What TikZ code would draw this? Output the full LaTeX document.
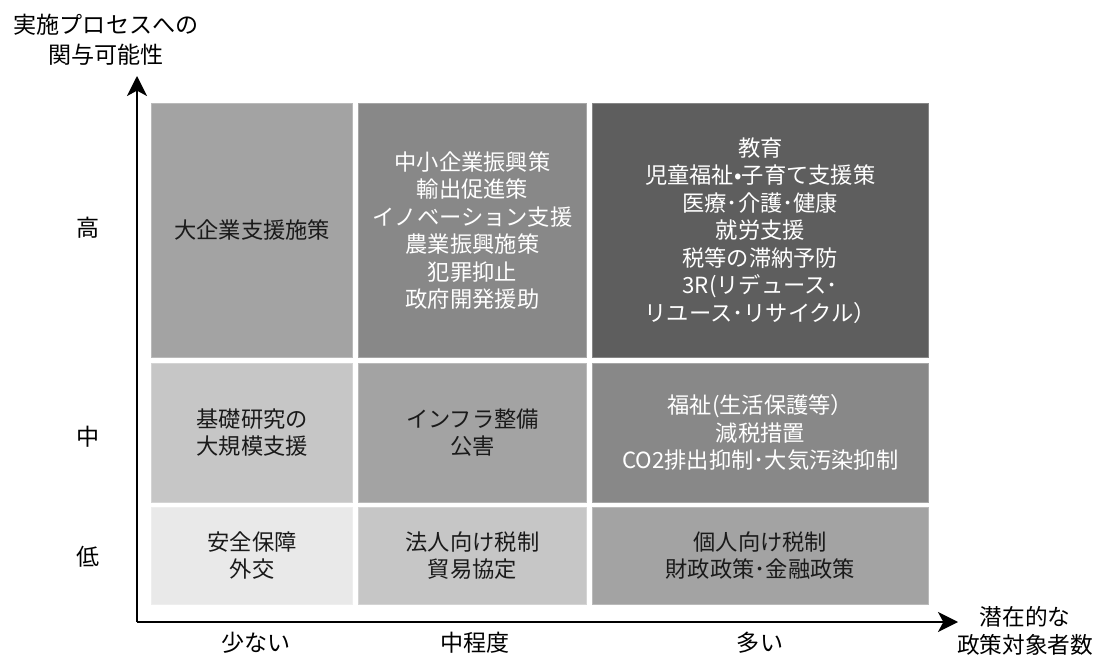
\documentclass[tikz,border=0pt]{standalone}
\usepackage{fontspec}
\setmainfont{Noto Sans CJK JP}
\usetikzlibrary{arrows.meta}
\definecolor{cA}{HTML}{A3A3A3}
\definecolor{cB}{HTML}{888888}
\definecolor{cC}{HTML}{5E5E5E}
\definecolor{cD}{HTML}{C6C6C6}
\definecolor{cE}{HTML}{E9E9E9}
\definecolor{txtdark}{HTML}{1A1A1A}
\tikzset{
  cell/.style={rectangle, inner sep=0pt, fill=#1, draw=#1!75!white, line width=0.6pt,
    align=center, font=\fontsize{16.7}{20.6}\selectfont, text=txtdark},
  lighttext/.style={text=white},
  w1/.style={minimum width=150.7pt},
  w2/.style={minimum width=171.3pt},
  w3/.style={minimum width=252pt},
  h1/.style={minimum height=190.8pt},
  h2/.style={minimum height=104pt},
  h3/.style={minimum height=72.7pt},
  axislabel/.style={font=\fontsize{17.3}{22.5}\selectfont, text=black, align=center},
  axisline/.style={line width=1.4pt, -{Stealth[length=15pt,width=15pt,inset=4pt]}}
}
\begin{document}
\begin{tikzpicture}[x=0.75pt,y=-0.75pt]
\useasboundingbox (0,0) rectangle (1107,659);
% cells
\node[cell=cA, w1, h1] (c11) at (252.2,230.5) {大企業支援施策};
\node[cell=cB, w2, h1, lighttext] (c12) at (472.5,230.5) {中小企業振興策\\輸出促進策\\イノベーション支援\\農業振興施策\\犯罪抑止\\政府開発援助};
\node[cell=cC, w3, h1, lighttext] (c13) at (760.3,230.5) {教育\\児童福祉•子育て支援策\\医療･介護･健康\\就労支援\\税等の滞納予防\\3R(リデュース･\\リユース･リサイクル）};
\node[cell=cD, w1, h2] (c21) at (252.2,432.7) {基礎研究の\\大規模支援};
\node[cell=cA, w2, h2] (c22) at (472.5,432.7) {インフラ整備\\公害};
\node[cell=cB, w3, h2, lighttext] (c23) at (760.3,432.7) {福祉(生活保護等）\\減税措置\\CO2排出抑制･大気汚染抑制};
\node[cell=cE, w1, h3] (c31) at (252.2,555.8) {安全保障\\外交};
\node[cell=cD, w2, h3] (c32) at (472.5,555.8) {法人向け税制\\貿易協定};
\node[cell=cA, w3, h3] (c33) at (760.3,555.8) {個人向け税制\\財政政策･金融政策};
% axes
\coordinate (o) at (137,622);
\coordinate (ytip) at (137,76);
\coordinate (xtip) at (958,622);
\draw[axisline] (o) -- (ytip);
\draw[axisline] (o) -- (xtip);
% axis titles
\node[axislabel] (ytitle) at (106,40) {実施プロセスへの\\関与可能性};
\node[axislabel, font=\fontsize{17}{21.5}\selectfont] (xtitle) at (1025,631) {潜在的な\\政策対象者数};
% level labels
\node[axislabel] (hi) at (88,228) {高};
\node[axislabel] (mid) at (88,437) {中};
\node[axislabel] (lo) at (88,557) {低};
\node[axislabel] (few) at (256,643) {少ない};
\node[axislabel] (med) at (475,643) {中程度};
\node[axislabel] (many) at (760,643) {多い};
\end{tikzpicture}
\end{document}
